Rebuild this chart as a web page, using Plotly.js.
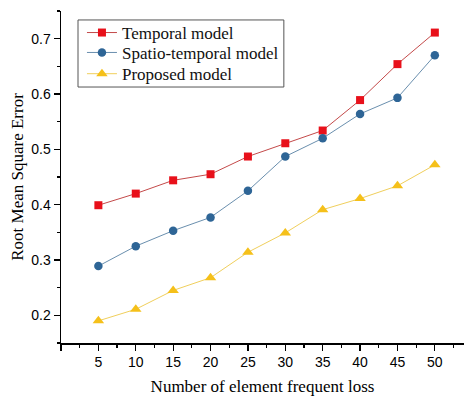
<!DOCTYPE html>
<html>
<head>
<meta charset="utf-8">
<script src="https://cdn.plot.ly/plotly-3.0.1.min.js"></script>
<style>html,body{margin:0;padding:0;background:#fff}#chart{width:464px;height:396px}</style>
</head>
<body>
<div id="chart"></div>
<script>
const xValues = [5, 10, 15, 20, 25, 30, 35, 40, 45, 50];
const temporal = [0.399, 0.420, 0.444, 0.455, 0.487, 0.511, 0.534, 0.589, 0.654, 0.711];
const spatioTemporal = [0.289, 0.325, 0.353, 0.377, 0.425, 0.487, 0.520, 0.564, 0.593, 0.670];
const proposed = [0.190, 0.211, 0.245, 0.268, 0.314, 0.349, 0.391, 0.411, 0.434, 0.472];
const seriesNames = ['Temporal model', 'Spatio-temporal model', 'Proposed model'];
const xTickVals = [0, 5, 10, 15, 20, 25, 30, 35, 40, 45, 50];
const xTickText = ['', '5', '10', '15', '20', '25', '30', '35', '40', '45', '50'];
const yTickVals = [0.2, 0.3, 0.4, 0.5, 0.6, 0.7];
const yTickText = ['0.2', '0.3', '0.4', '0.5', '0.6', '0.7'];

const traces = [
  {x: xValues, y: temporal, name: seriesNames[0], legend: 'legend', type: 'scatter', mode: 'lines+markers',
   line: {color: '#c44a4a', width: 1}, marker: {symbol: 'square', size: 8, color: '#e8101a'}},
  {x: xValues, y: spatioTemporal, name: seriesNames[1], legend: 'legend2', type: 'scatter', mode: 'lines+markers',
   line: {color: '#6a8fae', width: 1}, marker: {symbol: 'circle', size: 8.5, color: '#2e6596'}},
  {x: xValues, y: proposed, name: seriesNames[2], legend: 'legend3', type: 'scatter', mode: 'lines+markers',
   line: {color: '#f0cf5c', width: 1}, marker: {symbol: 'triangle-up', size: 10, color: '#f5c01a'}}
];

const serif = 'Liberation Serif, Times New Roman, serif';
const sans = 'Liberation Sans, Arial, sans-serif';
function legendAt(y) {
  return {x: 0.052, y: y, xanchor: 'left', yanchor: 'top', borderwidth: 0,
    bgcolor: 'rgba(0,0,0,0)', font: {family: serif, size: 17, color: '#111'}, itemwidth: 30};
}

const layout = {
  width: 464, height: 396,
  margin: {l: 61, r: 0, t: 11, b: 53},
  paper_bgcolor: '#fff', plot_bgcolor: '#fff',
  showlegend: true,
  legend: legendAt(0.988),
  legend2: legendAt(0.928),
  legend3: legendAt(0.864),
  shapes: [{type: 'rect', xref: 'paper', yref: 'paper', x0: 0.0422, x1: 0.553, y0: 0.771, y1: 0.973,
    line: {color: '#555', width: 1}, fillcolor: '#fff', layer: 'below'}],
  xaxis: {
    range: [0, 53.9], tickmode: 'array', tickvals: xTickVals, ticktext: xTickText,
    ticks: 'outside', ticklen: 6, tickwidth: 1.3, tickcolor: '#000',
    showline: true, linecolor: '#000', linewidth: 1.5, showgrid: false, zeroline: false,
    minor: {dtick: 2.5, tick0: 0, ticks: 'outside', ticklen: 3, tickwidth: 1.2, tickcolor: '#000', showgrid: false},
    tickfont: {family: sans, size: 14, color: '#000'},
    title: {text: 'Number of element frequent loss', standoff: 11,
      font: {family: serif, size: 17, color: '#000'}}
  },
  yaxis: {
    range: [0.15, 0.75], tickmode: 'array', tickvals: yTickVals, ticktext: yTickText,
    ticks: 'outside', ticklen: 6, tickwidth: 1.3, tickcolor: '#000',
    showline: true, linecolor: '#000', linewidth: 1.5, showgrid: false, zeroline: false,
    minor: {dtick: 0.05, tick0: 0.15, ticks: 'outside', ticklen: 3, tickwidth: 1.2, tickcolor: '#000', showgrid: false},
    tickfont: {family: sans, size: 14, color: '#000'},
    title: {text: 'Root Mean Square Error', standoff: 3,
      font: {family: serif, size: 17, color: '#000'}}
  }
};

Plotly.newPlot('chart', traces, layout, {displayModeBar: false, staticPlot: true});
</script>
</body>
</html>
